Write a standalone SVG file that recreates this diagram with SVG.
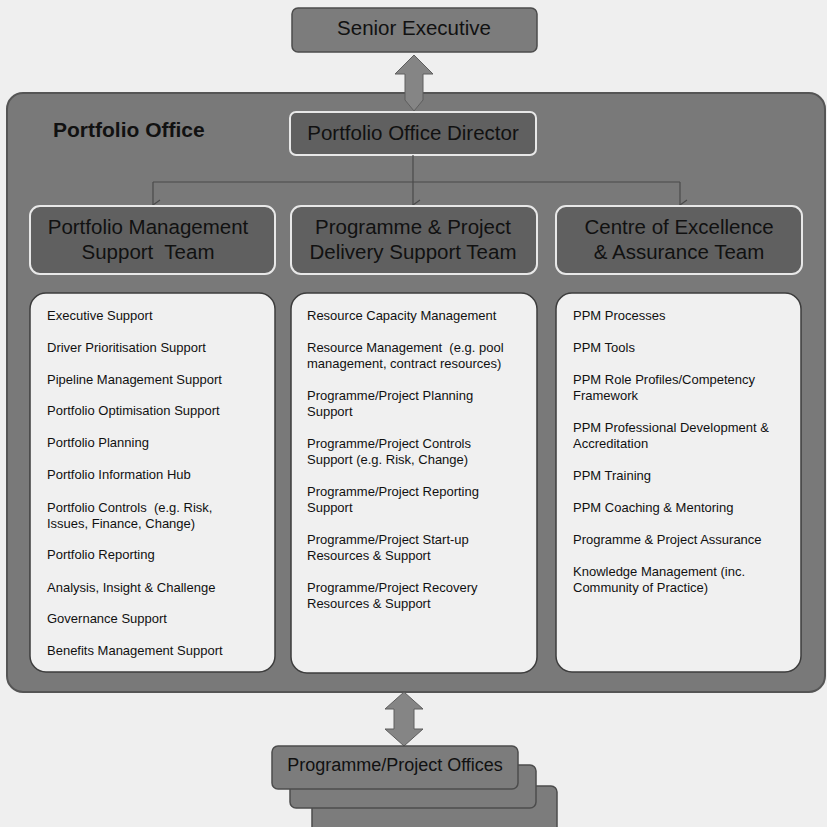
<svg xmlns="http://www.w3.org/2000/svg" width="827" height="827" viewBox="0 0 827 827">
  <style>
    .bg { fill: #efefef; }
    .office { fill: #797979; stroke: #555; stroke-width: 2; }
    .raised { fill: #7c7c7c; stroke: #4c4c4c; stroke-width: 1.5; }
    .team { fill: #606060; stroke: #e8e8e8; stroke-width: 2; }
    .list { fill: #f0f0f0; stroke: #3c3c3c; stroke-width: 1.5; }
    .dbl { fill: #858585; stroke: #5e5e5e; stroke-width: 1; }
    .conn { fill: none; stroke: #4a4a4a; stroke-width: 1.2; }
    .head { font-family: "Liberation Sans", Arial, sans-serif; font-size: 20.5px; fill: #111; text-anchor: middle; }
    .title { font-family: "Liberation Sans", Arial, sans-serif; font-size: 21px; font-weight: bold; fill: #111; }
    .item { font-family: "Liberation Sans", Arial, sans-serif; font-size: 13px; fill: #111; }
  </style>
  <defs>
    <marker id="vee" viewBox="0 0 12 12" refX="6" refY="11" markerWidth="12" markerHeight="12" markerUnits="userSpaceOnUse" orient="auto-start-reverse">
      <path d="M1,4 L6,11 L11,4" fill="none" stroke="#4a4a4a" stroke-width="1.2"/>
    </marker>
  </defs>

  <rect class="bg" x="0" y="0" width="827" height="827"/>

  <!-- Portfolio Office container -->
  <g id="portfolio-office">
    <rect class="office" x="7" y="93" width="818" height="599" rx="16"/>
    <text class="title" x="53" y="137">Portfolio Office</text>
  </g>

  <!-- Senior Executive -->
  <g id="senior-executive">
    <rect class="raised" x="292" y="8" width="245" height="44" rx="6"/>
    <text class="head" x="414" y="35">Senior Executive</text>
  </g>

  <!-- two-way link between Senior Executive and the office -->
  <g id="link-top">
    <polygon class="dbl" points="414,55 433,74 423,74 423,100 414,111 405,100 405,74 395,74"/>
  </g>

  <!-- Portfolio Office Director -->
  <g id="director">
    <rect class="team" x="290" y="112" width="246" height="43" rx="6"/>
    <text class="head" x="413" y="140">Portfolio Office Director</text>
  </g>

  <!-- reporting lines -->
  <g id="connectors">
    <path class="conn" d="M413,155 V205" marker-end="url(#vee)"/>
    <path class="conn" d="M153,182 H680"/>
    <path class="conn" d="M153,182 V205" marker-end="url(#vee)"/>
    <path class="conn" d="M680,182 V205" marker-end="url(#vee)"/>
  </g>

  <!-- Team headers -->
  <g id="team-pm">
    <rect class="team" x="30" y="206" width="245" height="68" rx="10"/>
    <text class="head" x="148" y="234">Portfolio Management</text>
    <text class="head" x="148" y="259" xml:space="preserve">Support  Team</text>
  </g>
  <g id="team-ppd">
    <rect class="team" x="291" y="206" width="246" height="68" rx="10"/>
    <text class="head" x="413" y="234">Programme &amp; Project</text>
    <text class="head" x="413" y="259">Delivery Support Team</text>
  </g>
  <g id="team-coe">
    <rect class="team" x="556" y="206" width="246" height="68" rx="10"/>
    <text class="head" x="679" y="234">Centre of Excellence</text>
    <text class="head" x="679" y="259">&amp; Assurance Team</text>
  </g>

  <!-- Service lists -->
  <g id="list-pm">
    <rect class="list" x="30" y="293" width="245" height="379" rx="16"/>
    <text class="item" x="47" y="320">Executive Support</text>
    <text class="item" x="47" y="352">Driver Prioritisation Support</text>
    <text class="item" x="47" y="384">Pipeline Management Support</text>
    <text class="item" x="47" y="415">Portfolio Optimisation Support</text>
    <text class="item" x="47" y="447">Portfolio Planning</text>
    <text class="item" x="47" y="479">Portfolio Information Hub</text>
    <text class="item" x="47" y="512" xml:space="preserve">Portfolio Controls  (e.g. Risk,</text>
    <text class="item" x="47" y="528">Issues, Finance, Change)</text>
    <text class="item" x="47" y="559">Portfolio Reporting</text>
    <text class="item" x="47" y="592">Analysis, Insight &amp; Challenge</text>
    <text class="item" x="47" y="623">Governance Support</text>
    <text class="item" x="47" y="655">Benefits Management Support</text>
  </g>
  <g id="list-ppd">
    <rect class="list" x="291" y="293" width="246" height="380" rx="16"/>
    <text class="item" x="307" y="320">Resource Capacity Management</text>
    <text class="item" x="307" y="352" xml:space="preserve">Resource Management  (e.g. pool</text>
    <text class="item" x="307" y="368">management, contract resources)</text>
    <text class="item" x="307" y="400">Programme/Project Planning</text>
    <text class="item" x="307" y="416">Support</text>
    <text class="item" x="307" y="448">Programme/Project Controls</text>
    <text class="item" x="307" y="464">Support (e.g. Risk, Change)</text>
    <text class="item" x="307" y="496">Programme/Project Reporting</text>
    <text class="item" x="307" y="512">Support</text>
    <text class="item" x="307" y="544">Programme/Project Start-up</text>
    <text class="item" x="307" y="560">Resources &amp; Support</text>
    <text class="item" x="307" y="592">Programme/Project Recovery</text>
    <text class="item" x="307" y="608">Resources &amp; Support</text>
  </g>
  <g id="list-coe">
    <rect class="list" x="556" y="293" width="245" height="379" rx="16"/>
    <text class="item" x="573" y="320">PPM Processes</text>
    <text class="item" x="573" y="352">PPM Tools</text>
    <text class="item" x="573" y="384">PPM Role Profiles/Competency</text>
    <text class="item" x="573" y="400">Framework</text>
    <text class="item" x="573" y="432">PPM Professional Development &amp;</text>
    <text class="item" x="573" y="448">Accreditation</text>
    <text class="item" x="573" y="480">PPM Training</text>
    <text class="item" x="573" y="512">PPM Coaching &amp; Mentoring</text>
    <text class="item" x="573" y="544">Programme &amp; Project Assurance</text>
    <text class="item" x="573" y="576">Knowledge Management (inc.</text>
    <text class="item" x="573" y="592">Community of Practice)</text>
  </g>

  <!-- two-way link to the programme/project offices -->
  <g id="link-bottom">
    <polygon class="dbl" points="404,692 423,709 414,709 414,729 423,729 404,746 385,729 394,729 394,709 385,709"/>
  </g>

  <!-- Programme/Project Offices (stacked) -->
  <g id="pp-offices">
    <rect class="raised" x="312" y="786" width="245" height="50" rx="6"/>
    <rect class="raised" x="290" y="765" width="246" height="43" rx="6"/>
    <rect class="raised" x="272" y="746" width="246" height="43" rx="6"/>
    <text class="head" x="395" y="771" style="font-size:18px">Programme/Project Offices</text>
  </g>
</svg>
